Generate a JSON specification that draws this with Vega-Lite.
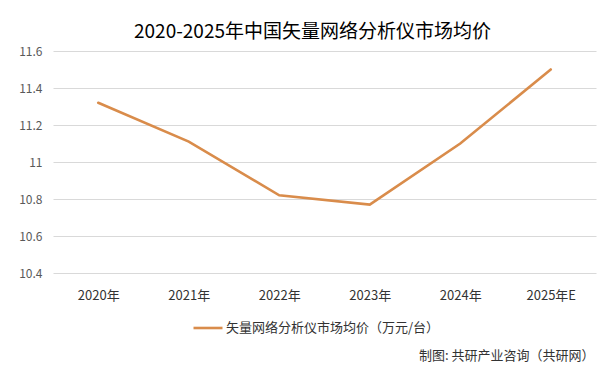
{
  "$schema": "https://vega.github.io/schema/vega-lite/v6.json",
  "autosize": "none",
  "width": 543,
  "height": 222,
  "padding": {"left": 53, "top": 51, "right": 17, "bottom": 101},
  "background": "white",
  "title": {
    "text": "2020-2025年中国矢量网络分析仪市场均价",
    "font": "Noto Sans CJK SC",
    "fontSize": 19,
    "fontWeight": "normal",
    "color": "#000000",
    "anchor": "middle",
    "dx": -12,
    "offset": 3
  },
  "config": {
    "view": {"stroke": null},
    "font": "Noto Sans CJK SC"
  },
  "data": {
    "values": [
      {"year": "2020年", "price": 11.32, "series": "矢量网络分析仪市场均价（万元/台）"},
      {"year": "2021年", "price": 11.11, "series": "矢量网络分析仪市场均价（万元/台）"},
      {"year": "2022年", "price": 10.82, "series": "矢量网络分析仪市场均价（万元/台）"},
      {"year": "2023年", "price": 10.77, "series": "矢量网络分析仪市场均价（万元/台）"},
      {"year": "2024年", "price": 11.1, "series": "矢量网络分析仪市场均价（万元/台）"},
      {"year": "2025年E", "price": 11.5, "series": "矢量网络分析仪市场均价（万元/台）"}
    ]
  },
  "mark": {"type": "line", "strokeWidth": 2.6, "strokeCap": "round"},
  "encoding": {
    "x": {
      "field": "year",
      "type": "nominal",
      "sort": null,
      "scale": {"type": "point", "padding": 0.5},
      "axis": {
        "title": "制图: 共研产业咨询（共研网）",
        "titleFont": "Noto Sans CJK SC",
        "titleFontSize": 13,
        "titleFontWeight": "normal",
        "titleColor": "#333333",
        "titleAnchor": "end",
        "titleAlign": "right",
        "titleBaseline": "middle",
        "titleX": 541,
        "titleY": 82,
        "labelAngle": 0,
        "labelFontSize": 13,
        "labelColor": "#333333",
        "labelPadding": 16,
        "ticks": false,
        "domain": false,
        "grid": false
      }
    },
    "y": {
      "field": "price",
      "type": "quantitative",
      "scale": {"domain": [10.4, 11.6], "zero": false, "nice": false},
      "axis": {
        "title": null,
        "values": [10.4, 10.6, 10.8, 11, 11.2, 11.4, 11.6],
        "format": "~g",
        "labelFontSize": 12,
        "labelColor": "#595959",
        "labelPadding": 11,
        "ticks": false,
        "domain": false,
        "gridColor": "#d9d9d9",
        "gridWidth": 1
      }
    },
    "color": {
      "field": "series",
      "type": "nominal",
      "scale": {"range": ["#D98C4B"]},
      "legend": {
        "title": null,
        "orient": "none",
        "legendX": 139,
        "legendY": 261,
        "symbolType": "stroke",
        "symbolSize": 841,
        "symbolStrokeWidth": 2.6,
        "labelFontSize": 13,
        "labelColor": "#333333",
        "labelOffset": 2,
        "labelLimit": 400
      }
    }
  }
}
